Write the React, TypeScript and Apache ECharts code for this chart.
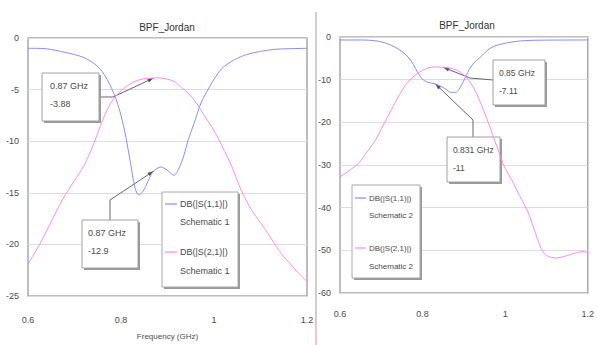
import React, { useEffect, useRef } from "react";
import * as echarts from "echarts";

const TITLE = "BPF_Jordan";
const X_NAME = "Frequency (GHz)";
const FONT = "Liberation Sans";

// Left chart (Schematic 1)
const L_S11_F = [0.6, 0.62, 0.64, 0.66, 0.68, 0.7, 0.72, 0.74, 0.756, 0.77, 0.78, 0.79, 0.8, 0.81, 0.82, 0.83, 0.838, 0.845, 0.853, 0.862, 0.87, 0.886, 0.899, 0.914, 0.925, 0.935, 0.945, 0.957, 0.972, 0.987, 1.0, 1.016, 1.03, 1.044, 1.07, 1.1, 1.13, 1.15, 1.2];
const L_S11_DB = [-1.0, -1.0, -1.05, -1.2, -1.4, -1.6, -1.9, -2.4, -3.05, -4.0, -4.9, -6.0, -7.5, -9.5, -12.0, -14.5, -15.2, -15.0, -14.4, -13.5, -12.9, -12.5, -12.8, -13.3, -12.6, -11.4, -9.8, -8.3, -6.3, -5.0, -4.0, -3.0, -2.5, -2.1, -1.6, -1.3, -1.1, -1.05, -1.0];
const L_S21_F = [0.6, 0.625, 0.65, 0.675, 0.7, 0.72, 0.74, 0.756, 0.77, 0.784, 0.8, 0.814, 0.83, 0.849, 0.87, 0.88, 0.895, 0.914, 0.93, 0.95, 0.965, 0.979, 0.995, 1.009, 1.023, 1.037, 1.05, 1.059, 1.08, 1.1, 1.117, 1.14, 1.16, 1.18, 1.2];
const L_S21_DB = [-21.9, -20.0, -17.8, -15.6, -13.8, -12.4, -10.4, -8.5, -7.0, -5.9, -5.1, -4.6, -4.2, -3.95, -3.88, -3.85, -3.95, -4.2, -4.8, -5.6, -6.5, -7.5, -8.6, -9.7, -11.0, -12.3, -13.8, -14.8, -16.6, -17.9, -19.0, -20.6, -21.7, -22.7, -23.6];

// Right chart (Schematic 2)
const R_S11_F = [0.6, 0.65, 0.687, 0.71, 0.734, 0.75, 0.765, 0.778, 0.788, 0.8, 0.812, 0.831, 0.845, 0.859, 0.866, 0.875, 0.882, 0.89, 0.898, 0.906, 0.913, 0.925, 0.937, 0.95, 0.961, 0.975, 0.993, 1.015, 1.04, 1.08, 1.2];
const R_S11_DB = [-0.7, -0.7, -0.9, -1.4, -2.4, -3.4, -4.7, -6.5, -8.3, -9.9, -10.6, -11.0, -11.6, -12.4, -12.9, -13.0, -12.9, -12.0, -10.6, -9.0, -7.6, -6.0, -5.0, -3.8, -2.8, -2.1, -1.6, -1.2, -0.9, -0.75, -0.7];
const R_S21_F = [0.6, 0.62, 0.647, 0.665, 0.687, 0.705, 0.725, 0.74, 0.757, 0.772, 0.788, 0.8, 0.812, 0.83, 0.85, 0.866, 0.882, 0.895, 0.906, 0.918, 0.929, 0.94, 0.953, 0.965, 0.976, 0.988, 1.0, 1.016, 1.035, 1.055, 1.07, 1.087, 1.1, 1.125, 1.14, 1.158, 1.188, 1.2];
const R_S21_DB = [-32.8, -31.5, -29.4, -27.0, -24.0, -20.6, -17.0, -14.2, -11.5, -9.8, -8.5, -7.8, -7.3, -7.0, -7.11, -7.3, -7.7, -8.5, -9.5, -11.0, -12.9, -15.3, -18.5, -21.6, -24.6, -27.8, -30.8, -33.5, -37.2, -41.0, -45.0, -49.5, -51.2, -51.8, -51.5, -51.0, -50.3, -50.5];

const SERIES_NAMES = ["DB(|S(1,1)|)", "DB(|S(2,1)|)"];
const SCHEMATICS = ["Schematic 1", "Schematic 2"];

// Markers: grid index, frequency, dB, label
const MARK_GRID = [0, 0, 1, 1];
const MARK_F = [0.87, 0.87, 0.85, 0.831];
const MARK_DB = [-3.88, -12.9, -7.11, -11];
const MARK_TEXT = ["0.87 GHz\n-3.88", "0.87 GHz\n-12.9", "0.85 GHz\n-7.11", "0.831 GHz\n-11"];

const BLUE = "#8a8aff";
const PINK = "#ff86ff";
const TXT = "#4a4a4a";

const zip = (f: number[], d: number[]) => f.map((x, i) => [x, d[i]]);
const fmtX = (v: number) => String(+v.toFixed(2));

export default function App() {
  const ref = useRef<HTMLDivElement>(null);
  useEffect(() => {
    if (!ref.current) return;
    const chart = echarts.init(ref.current, null, { renderer: "svg" });
    const grids = [
      { left: 28, top: 38, width: 279, height: 262 },
      { left: 340, top: 37, width: 253, height: 256 },
    ];
    const axisLabel = { fontSize: 9, color: TXT, fontFamily: FONT };
    const option: any = {
      animation: false,
      backgroundColor: "#fff",
      grid: grids.map((g) => ({ ...g, show: true, borderColor: "#a8a8a8", borderWidth: 1.5, backgroundColor: "#fff" })),
      xAxis: [
        {
          gridIndex: 0, type: "value", min: 0.6, max: 1.2, interval: 0.2,
          axisLine: { show: false }, axisTick: { show: false }, splitLine: { show: false },
          axisLabel: { ...axisLabel, margin: 19, formatter: fmtX },
          name: X_NAME, nameLocation: "middle", nameGap: 36,
          nameTextStyle: { fontSize: 8, color: TXT, fontFamily: FONT },
        },
        {
          gridIndex: 1, type: "value", min: 0.6, max: 1.2, interval: 0.2,
          axisLine: { show: false }, axisTick: { show: false }, splitLine: { show: false },
          axisLabel: { ...axisLabel, margin: 16, formatter: fmtX },
        },
      ],
      yAxis: [
        {
          gridIndex: 0, type: "value", min: -25, max: 0, interval: 5,
          axisLine: { show: false }, axisTick: { show: false },
          splitLine: { lineStyle: { color: "#dcdcdc", width: 1 } },
          axisLabel: { ...axisLabel, margin: 9 },
        },
        {
          gridIndex: 1, type: "value", min: -60, max: 0, interval: 10,
          axisLine: { show: false }, axisTick: { show: false },
          splitLine: { lineStyle: { color: "#dcdcdc", width: 1 } },
          axisLabel: { ...axisLabel, margin: 9 },
        },
      ],
      series: [
        { name: SERIES_NAMES[0] + " " + SCHEMATICS[0], type: "line", xAxisIndex: 0, yAxisIndex: 0, data: zip(L_S11_F, L_S11_DB), showSymbol: false, smooth: 0.3, lineStyle: { color: BLUE, width: 1 }, itemStyle: { color: BLUE } },
        { name: SERIES_NAMES[1] + " " + SCHEMATICS[0], type: "line", xAxisIndex: 0, yAxisIndex: 0, data: zip(L_S21_F, L_S21_DB), showSymbol: false, smooth: 0.3, lineStyle: { color: PINK, width: 1 }, itemStyle: { color: PINK } },
        { name: SERIES_NAMES[0] + " " + SCHEMATICS[1], type: "line", xAxisIndex: 1, yAxisIndex: 1, data: zip(R_S11_F, R_S11_DB), showSymbol: false, smooth: 0.3, lineStyle: { color: BLUE, width: 1 }, itemStyle: { color: BLUE } },
        { name: SERIES_NAMES[1] + " " + SCHEMATICS[1], type: "line", xAxisIndex: 1, yAxisIndex: 1, data: zip(R_S21_F, R_S21_DB), showSymbol: false, smooth: 0.3, lineStyle: { color: PINK, width: 1 }, itemStyle: { color: PINK } },
      ],
    };
    chart.setOption(option);

    const g: any[] = [];
    // separator
    g.push({ type: "line", shape: { x1: 316, y1: 12, x2: 316, y2: 325 }, style: { stroke: "#cfcfcf", lineWidth: 2 } });
    g.push({ type: "line", shape: { x1: 316, y1: 325, x2: 316, y2: 345 }, style: { stroke: "#f6c4c4", lineWidth: 2 } });
    // titles
    [[167, 27], [467, 25]].forEach(([x, y]) =>
      g.push({ type: "text", x, y, style: { text: TITLE, fill: "#333", fontSize: 10, fontFamily: FONT, align: "center", verticalAlign: "middle" } })
    );

    // annotation boxes: [x, y, w, h], leader bend point, box attach point
    const boxes = [
      { r: [42, 73, 57, 48], attach: [99, 97], bend: [113, 97], tx: 50, fs: 9 },
      { r: [82, 220, 56, 48], attach: [110, 220], bend: [110, 200], tx: 88, fs: 9 },
      { r: [493, 60, 52, 45], attach: [493, 80], bend: [470, 78], tx: 499, fs: 8.5 },
      { r: [447, 137, 53, 45], attach: [473, 137], bend: [473, 120], tx: 453, fs: 8.5 },
    ];
    boxes.forEach((b, i) => {
      const p = chart.convertToPixel({ gridIndex: MARK_GRID[i] } as any, [MARK_F[i], MARK_DB[i]]) as number[];
      g.push({ type: "polyline", shape: { points: [b.attach, b.bend, p] }, style: { stroke: "#666", lineWidth: 1, fill: null } });
      const dx = p[0] - b.bend[0], dy = p[1] - b.bend[1];
      const L = Math.hypot(dx, dy) || 1;
      const ux = dx / L, uy = dy / L;
      const bx = p[0] - ux * 6, by = p[1] - uy * 6;
      g.push({ type: "polygon", shape: { points: [[p[0], p[1]], [bx - uy * 2, by + ux * 2], [bx + uy * 2, by - ux * 2]] }, style: { fill: "#555" } });
      const [x, y, w, h] = b.r;
      g.push({ type: "rect", shape: { x: x + 2, y: y + 2, width: w, height: h }, style: { fill: "#9a9a9a" } });
      g.push({ type: "rect", shape: { x, y, width: w, height: h }, style: { fill: "#fff", stroke: "#a0a0a0", lineWidth: 1 } });
      const lines = MARK_TEXT[i].split("\n");
      lines.forEach((t, k) =>
        g.push({ type: "text", x: b.tx, y: y + 13 + k * 18, style: { text: t, fill: TXT, fontSize: b.fs, fontFamily: FONT, align: "left", verticalAlign: "middle" } })
      );
    });

    // legends
    const legends = [
      { r: [162, 192, 76, 95], lx: [165, 177], tx: 180, ys: [204, 222, 252, 271], fs: 9, sch: SCHEMATICS[0] },
      { r: [352, 185, 68, 93], lx: [355, 366], tx: 369, ys: [198, 215, 248, 266], fs: 8, sch: SCHEMATICS[1] },
    ];
    legends.forEach((L) => {
      const [x, y, w, h] = L.r;
      g.push({ type: "rect", shape: { x: x + 2, y: y + 2, width: w, height: h }, style: { fill: "#9a9a9a" } });
      g.push({ type: "rect", shape: { x, y, width: w, height: h }, style: { fill: "#fff", stroke: "#a8a8a8", lineWidth: 1 } });
      [BLUE, PINK].forEach((c, k) => {
        const ly = L.ys[k * 2];
        g.push({ type: "line", shape: { x1: L.lx[0], y1: ly, x2: L.lx[1], y2: ly }, style: { stroke: c, lineWidth: 1.2 } });
        g.push({ type: "text", x: L.tx, y: ly, style: { text: SERIES_NAMES[k], fill: TXT, fontSize: L.fs, fontFamily: FONT, align: "left", verticalAlign: "middle" } });
        g.push({ type: "text", x: L.tx, y: L.ys[k * 2 + 1], style: { text: L.sch, fill: TXT, fontSize: L.fs, fontFamily: FONT, align: "left", verticalAlign: "middle" } });
      });
    });

    chart.setOption({ graphic: g });
    return () => chart.dispose();
  }, []);
  return <div ref={ref} style={{ position: "fixed", left: 0, top: 0, width: 597, height: 345, background: "#fff" }} />;
}
